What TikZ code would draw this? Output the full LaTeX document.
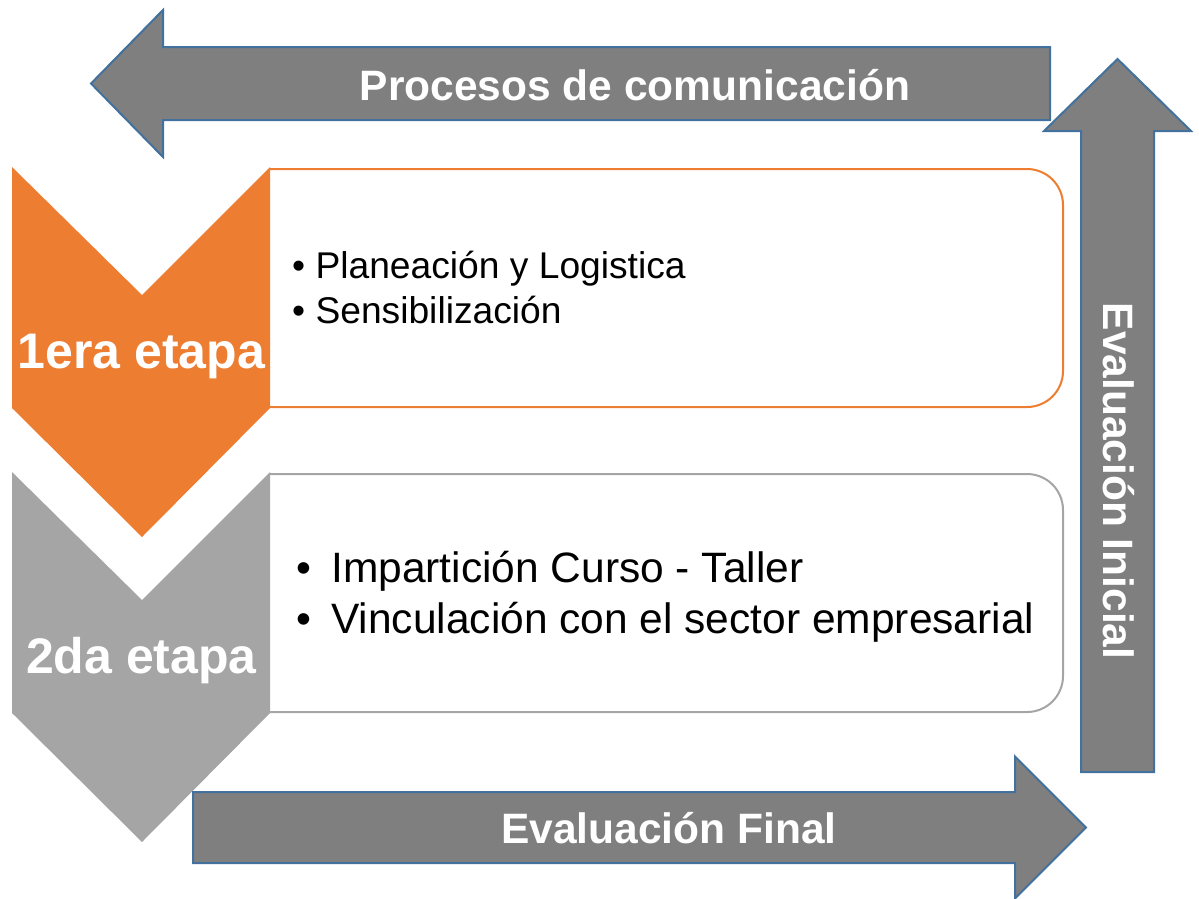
\documentclass[tikz,border=0pt]{standalone}
\usepackage{fontspec}
\setmainfont{Liberation Sans}
\definecolor{orangeA}{HTML}{ED7D31}
\definecolor{grayA}{HTML}{A5A5A5}
\definecolor{grayD}{HTML}{7F7F7F}
\definecolor{blueE}{HTML}{41719C}
\begin{document}
\begin{tikzpicture}[x=1pt,y=-1pt,
  bigarrow/.style={fill=grayD,draw=blueE,line width=2pt,line join=miter},
  arrowtext/.style={text=white,font=\fontsize{42.5}{50}\selectfont\bfseries,inner sep=0pt},
  stagetext/.style={text=white,font=\fontsize{50}{60}\selectfont\bfseries,inner sep=0pt,anchor=base},
  itemA/.style={font=\fontsize{37.2}{44}\selectfont,inner sep=0pt,anchor=base west},
  itemB/.style={font=\fontsize{42.5}{50}\selectfont,inner sep=0pt,anchor=base west}]
\useasboundingbox (0,0) rectangle (1199,898);
% content boxes (left side hidden under chevrons)
\draw[orangeA,line width=2pt,rounded corners=36pt] (270,169) -- (1063,169) -- (1063,407) -- (270,407);
\draw[grayA,line width=2pt,rounded corners=36pt] (270,474) -- (1063,474) -- (1063,712) -- (270,712);
% chevrons
\fill[orangeA] (12,167) -- (142,295) -- (270,167) -- (270,408) -- (142,537) -- (12,408) -- cycle;
\fill[grayA] (12,472) -- (142,600) -- (270,472) -- (270,713) -- (142,842) -- (12,713) -- cycle;
% big arrows
\draw[bigarrow] (1050,47) -- (163,47) -- (163,10) -- (91,83.5) -- (163,157) -- (163,120) -- (1050,120) -- cycle;
\draw[bigarrow] (1081,772) -- (1081,131) -- (1044,131) -- (1117.5,59) -- (1191,131) -- (1154,131) -- (1154,772) -- cycle;
\draw[bigarrow] (193,792) -- (1015,792) -- (1015,756.5) -- (1086,827.5) -- (1015,898.5) -- (1015,863) -- (193,863) -- cycle;
% texts
\node[arrowtext,anchor=base] (tproc) at (635,100) {Procesos de comunicación};
\node[arrowtext,anchor=base] (tfinal) at (669,843) {Evaluación Final};
\node[arrowtext,anchor=base,rotate=-90] (tinicial) at (1103,481) {Evaluación Inicial};
\node[stagetext] (tstage1) at (141.5,368) {1era etapa};
\node[stagetext] (tstage2) at (141.5,673) {2da etapa};
\node[itemA] (ia1) at (292,278) {• Planeación y Logistica};
\node[itemA] (ia2) at (292,323) {• Sensibilización};
\node[itemB] (bb1) at (296,582) {•};
\node[itemB] (ib1) at (331,582) {Impartición Curso - Taller};
\node[itemB] (bb2) at (296,633) {•};
\node[itemB] (ib2) at (331,633) {Vinculación con el sector empresarial};
\end{tikzpicture}
\end{document}
